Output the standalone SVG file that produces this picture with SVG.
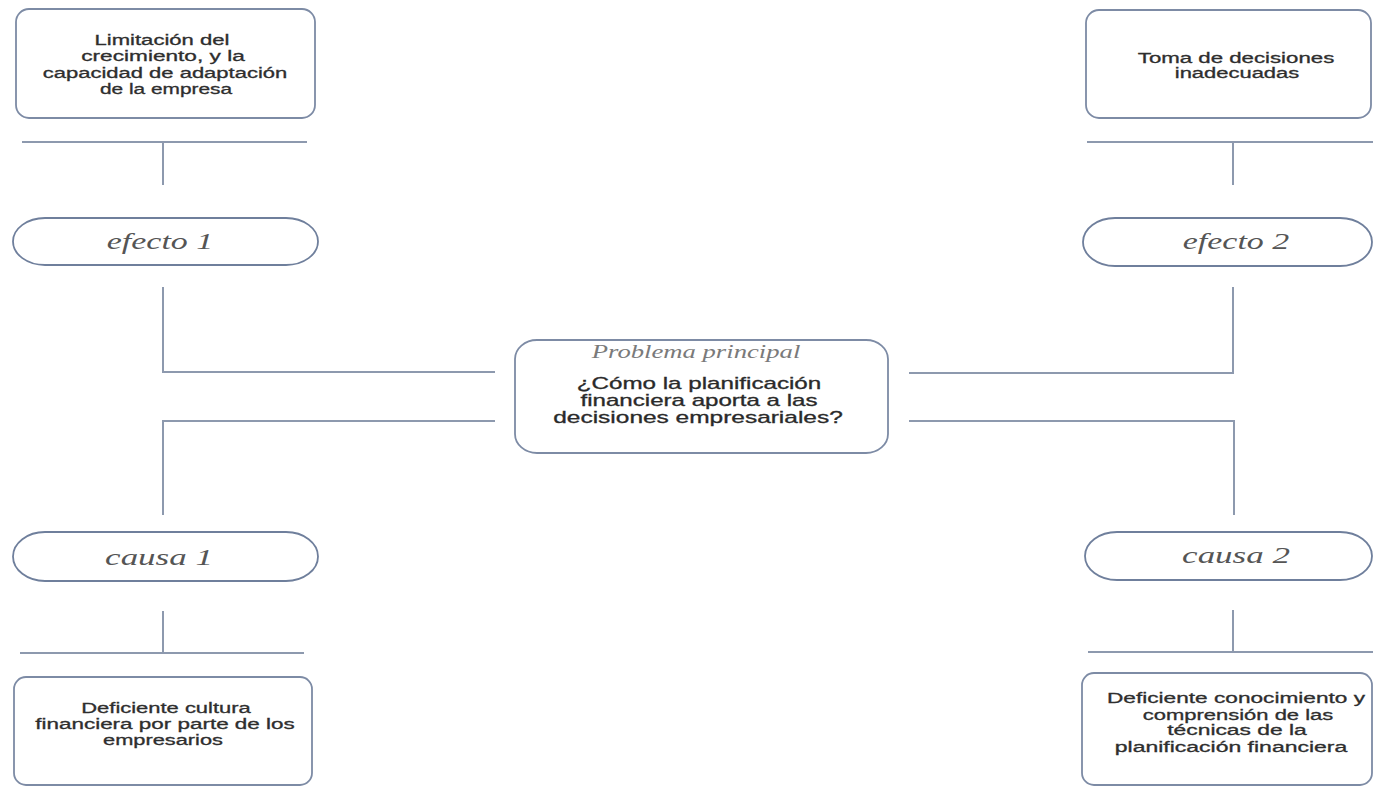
<svg xmlns="http://www.w3.org/2000/svg" width="1373" height="787" viewBox="0 0 1373 787">
  <style>
    .box { fill: #ffffff; stroke: #7d8ba5; stroke-width: 1.8; }
    .pill { fill: #ffffff; stroke: #6f7f9c; stroke-width: 1.8; }
    .wire { fill: none; stroke: #8d99ae; stroke-width: 2; }
    .txt { font-family: "Liberation Sans", Arial, sans-serif; font-size: 14.5px; fill: #2e2e2e; stroke: #2e2e2e; stroke-width: 0.3; text-anchor: middle; }
    .main { font-family: "Liberation Sans", Arial, sans-serif; font-size: 16px; fill: #2a2a2a; stroke: #2a2a2a; stroke-width: 0.3; text-anchor: middle; }
    .lbl { font-family: "Liberation Serif", "Times New Roman", serif; font-style: italic; font-size: 24px; fill: #555555; text-anchor: middle; }
    .head { font-family: "Liberation Serif", "Times New Roman", serif; font-style: italic; font-size: 19px; fill: #7a7a7a; text-anchor: middle; }
  </style>

  <rect width="1373" height="787" fill="#ffffff"/>

  <!-- connectors -->
  <g id="connectors">
    <!-- left effect branch -->
    <line class="wire" x1="22" y1="142" x2="307" y2="142"/>
    <line class="wire" x1="163" y1="142" x2="163" y2="185"/>
    <polyline class="wire" points="163,287 163,372 495,372"/>
    <!-- left cause branch -->
    <polyline class="wire" points="495,421 163,421 163,515"/>
    <line class="wire" x1="163" y1="611" x2="163" y2="653"/>
    <line class="wire" x1="20" y1="653" x2="304" y2="653"/>
    <!-- right effect branch -->
    <line class="wire" x1="1087" y1="142" x2="1373" y2="142"/>
    <line class="wire" x1="1233" y1="142" x2="1233" y2="185"/>
    <polyline class="wire" points="1233,287 1233,373 909,373"/>
    <!-- right cause branch -->
    <polyline class="wire" points="909,421 1234,421 1234,515"/>
    <line class="wire" x1="1233" y1="610" x2="1233" y2="652"/>
    <line class="wire" x1="1088" y1="652" x2="1373" y2="652"/>
  </g>

  <!-- effect 1 detail; all lettering is drawn 1.5x wide -->
  <g id="node-efecto1-detalle">
    <rect class="box" x="16" y="9" width="299" height="109" rx="13" ry="13"/>
    <text class="txt" transform="translate(162 45) scale(1.5 1)" textLength="90" lengthAdjust="spacingAndGlyphs">Limitación del</text>
    <text class="txt" transform="translate(163 61) scale(1.5 1)" textLength="109" lengthAdjust="spacingAndGlyphs">crecimiento, y la</text>
    <text class="txt" transform="translate(165 78) scale(1.5 1)" textLength="163" lengthAdjust="spacingAndGlyphs">capacidad de adaptación</text>
    <text class="txt" transform="translate(166 94) scale(1.5 1)" textLength="88" lengthAdjust="spacingAndGlyphs">de la empresa</text>
  </g>

  <g id="node-efecto1">
    <rect class="pill" x="13" y="218" width="305" height="47" rx="32" ry="23.5"/>
    <text class="lbl" transform="translate(160 249) scale(1.4 1)" textLength="76" lengthAdjust="spacingAndGlyphs">efecto 1</text>
  </g>

  <!-- effect 2 detail -->
  <g id="node-efecto2-detalle">
    <rect class="box" x="1086" y="10" width="285" height="108" rx="13" ry="13"/>
    <text class="txt" transform="translate(1236 63) scale(1.5 1)" textLength="131" lengthAdjust="spacingAndGlyphs">Toma de decisiones</text>
    <text class="txt" transform="translate(1237 78) scale(1.5 1)" textLength="83" lengthAdjust="spacingAndGlyphs">inadecuadas</text>
  </g>

  <g id="node-efecto2">
    <rect class="pill" x="1083" y="218" width="289" height="48" rx="32" ry="24"/>
    <text class="lbl" transform="translate(1236 249) scale(1.4 1)" textLength="76" lengthAdjust="spacingAndGlyphs">efecto 2</text>
  </g>

  <!-- central problem -->
  <g id="node-problema">
    <rect class="box" x="515" y="340" width="373" height="113" rx="22" ry="19"/>
    <text class="head" transform="translate(696 358) scale(1.4 1)" textLength="149" lengthAdjust="spacingAndGlyphs">Problema principal</text>
    <text class="main" transform="translate(699 389) scale(1.5 1)" textLength="163" lengthAdjust="spacingAndGlyphs">¿Cómo la planificación</text>
    <text class="main" transform="translate(699 406) scale(1.5 1)" textLength="158" lengthAdjust="spacingAndGlyphs">financiera aporta a las</text>
    <text class="main" transform="translate(698 423) scale(1.5 1)" textLength="193" lengthAdjust="spacingAndGlyphs">decisiones empresariales?</text>
  </g>

  <!-- cause 1 -->
  <g id="node-causa1">
    <rect class="pill" x="13" y="532" width="305" height="49" rx="32" ry="24.5"/>
    <text class="lbl" transform="translate(159 565) scale(1.4 1)" textLength="77" lengthAdjust="spacingAndGlyphs">causa 1</text>
  </g>

  <g id="node-causa1-detalle">
    <rect class="box" x="14" y="677" width="298" height="108" rx="12" ry="12"/>
    <text class="txt" transform="translate(166 713) scale(1.5 1)" textLength="113" lengthAdjust="spacingAndGlyphs">Deficiente cultura</text>
    <text class="txt" transform="translate(165 729) scale(1.5 1)" textLength="173" lengthAdjust="spacingAndGlyphs">financiera por parte de los</text>
    <text class="txt" transform="translate(163 745) scale(1.5 1)" textLength="80" lengthAdjust="spacingAndGlyphs">empresarios</text>
  </g>

  <!-- cause 2 -->
  <g id="node-causa2">
    <rect class="pill" x="1085" y="532" width="287" height="48" rx="32" ry="24"/>
    <text class="lbl" transform="translate(1236 563) scale(1.4 1)" textLength="77" lengthAdjust="spacingAndGlyphs">causa 2</text>
  </g>

  <g id="node-causa2-detalle">
    <rect class="box" x="1082" y="673" width="290" height="112" rx="12" ry="12"/>
    <text class="txt" transform="translate(1236 703) scale(1.5 1)" textLength="172" lengthAdjust="spacingAndGlyphs">Deficiente conocimiento y</text>
    <text class="txt" transform="translate(1238 720) scale(1.5 1)" textLength="127" lengthAdjust="spacingAndGlyphs">comprensión de las</text>
    <text class="txt" transform="translate(1237 735) scale(1.5 1)" textLength="93" lengthAdjust="spacingAndGlyphs">técnicas de la</text>
    <text class="txt" transform="translate(1231 752) scale(1.5 1)" textLength="155" lengthAdjust="spacingAndGlyphs">planificación financiera</text>
  </g>
</svg>
